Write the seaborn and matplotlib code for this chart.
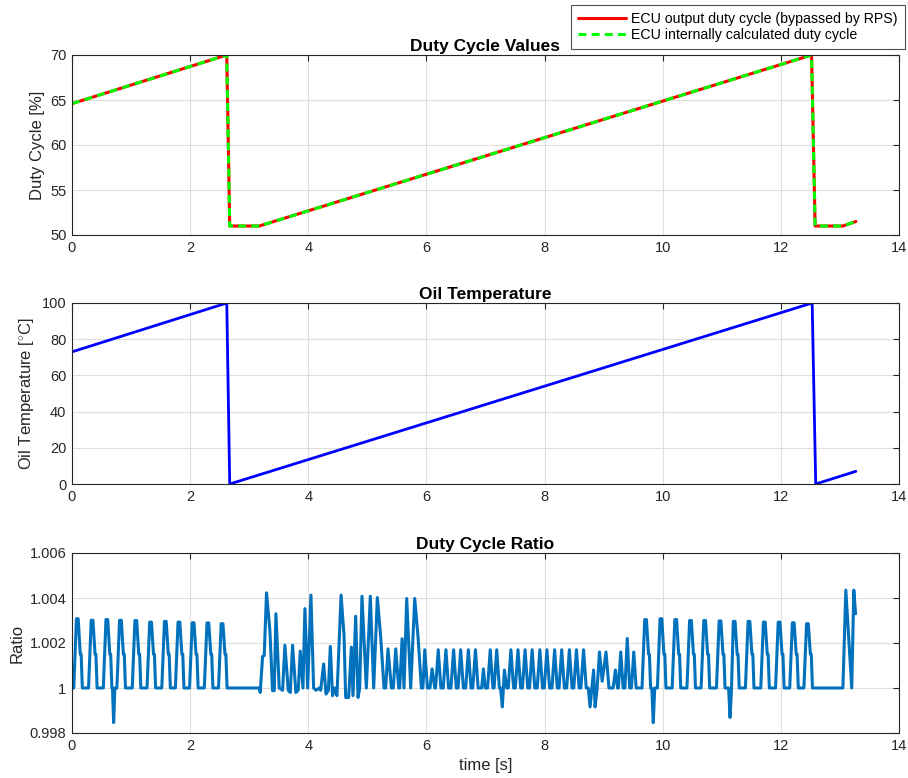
import matplotlib
matplotlib.use("Agg")
import matplotlib.pyplot as plt
import numpy as np
import pandas as pd
import seaborn as sns

# ---------------- data ----------------
duty_t = [0.0, 2.62, 2.67, 3.17, 12.52, 12.58, 13.05, 13.27]
duty_out = [64.6, 70.0, 51.0, 51.0, 70.0, 51.0, 51.0, 51.5]
duty_calc = [64.6, 70.0, 51.0, 51.0, 70.0, 51.0, 51.0, 51.5]

oil_t = [0.0, 2.62, 2.67, 12.53, 12.59, 13.27]
oil_temp = [73.0, 100.0, 0.0, 100.0, 0.0, 7.0]

ratio_t = [
    0.00, 0.03, 0.075, 0.105, 0.14, 0.155, 0.175,
    0.28, 0.325, 0.355, 0.39, 0.405, 0.425,
    0.53, 0.575, 0.605, 0.64, 0.655, 0.675,
    0.685, 0.705, 0.725,
    0.76, 0.805, 0.835, 0.87, 0.885, 0.905,
    1.02, 1.065, 1.095, 1.13, 1.145, 1.165,
    1.27, 1.315, 1.345, 1.38, 1.395, 1.415,
    1.52, 1.565, 1.595, 1.63, 1.645, 1.665,
    1.75, 1.795, 1.825, 1.86, 1.875, 1.895,
    1.99, 2.035, 2.065, 2.10, 2.115, 2.135,
    2.24, 2.285, 2.315, 2.35, 2.365, 2.385,
    2.48, 2.525, 2.555, 2.59, 2.605, 2.625,
    3.17, 3.186, 3.226, 3.254, 3.293, 3.35, 3.395, 3.424, 3.452, 3.508,
    3.565, 3.604, 3.661, 3.695, 3.734, 3.79, 3.83, 3.864, 3.91, 3.943,
    3.989, 4.045, 4.09, 4.13, 4.186, 4.21, 4.26, 4.30, 4.34, 4.373,
    4.41, 4.45, 4.485, 4.555, 4.605, 4.633, 4.684, 4.729, 4.757, 4.802,
    4.842, 4.87, 4.909, 4.983, 5.05, 5.107, 5.169, 5.226, 5.282, 5.31,
    5.35, 5.407, 5.44, 5.48, 5.531, 5.548, 5.588, 5.621, 5.666, 5.734,
    5.802, 5.858, 5.915, 5.94, 5.972, 6.017, 6.06, 6.096, 6.141,
    6.155, 6.20, 6.245, 6.285, 6.33, 6.375, 6.415, 6.46, 6.505, 6.535,
    6.58, 6.625, 6.665, 6.71, 6.755, 6.785, 6.83, 6.875, 6.935, 6.965,
    6.995, 7.035, 7.08, 7.125, 7.145, 7.19, 7.235, 7.255, 7.285, 7.32,
    7.36, 7.385, 7.43, 7.475, 7.505, 7.55, 7.595, 7.625, 7.67, 7.715,
    7.745, 7.79, 7.835, 7.875, 7.92, 7.965, 7.995, 8.04, 8.085, 8.125,
    8.17, 8.215, 8.245, 8.29, 8.335, 8.375, 8.42, 8.465, 8.495, 8.54,
    8.585, 8.615, 8.66, 8.705, 8.74, 8.77, 8.80, 8.83, 8.855, 8.89,
    8.93, 8.975, 9.04, 9.09, 9.16, 9.20, 9.235, 9.25, 9.29, 9.33,
    9.36, 9.40, 9.44, 9.47, 9.51, 9.55,
    9.65, 9.695, 9.725, 9.76, 9.775, 9.795,
    9.815, 9.84, 9.865,
    9.91, 9.955, 9.985, 10.02, 10.035, 10.055,
    10.16, 10.205, 10.235, 10.27, 10.285, 10.305,
    10.41, 10.455, 10.485, 10.52, 10.535, 10.555,
    10.65, 10.695, 10.725, 10.76, 10.775, 10.795,
    10.91, 10.955, 10.985, 11.02, 11.035, 11.055,
    11.115, 11.14, 11.165,
    11.195, 11.225, 11.26, 11.275, 11.295,
    11.40, 11.445, 11.475, 11.51, 11.525, 11.545,
    11.66, 11.705, 11.735, 11.77, 11.785, 11.805,
    11.91, 11.955, 11.985, 12.02, 12.035, 12.055,
    12.15, 12.195, 12.225, 12.26, 12.275, 12.295,
    12.39, 12.435, 12.465, 12.50, 12.515, 12.535,
    13.05, 13.10, 13.14, 13.20, 13.235, 13.265,
]
ratio_v = [
    1.0, 1.0, 1.00308, 1.00308, 1.0015, 1.0015, 1.0,
    1.0, 1.00301, 1.00301, 1.0015, 1.0015, 1.0,
    1.0, 1.00304, 1.00304, 1.0015, 1.0015, 1.0,
    1.0, 0.99846, 1.0,
    1.0, 1.00301, 1.00301, 1.0015, 1.0015, 1.0,
    1.0, 1.00300, 1.00300, 1.0015, 1.0015, 1.0,
    1.0, 1.00293, 1.00293, 1.0015, 1.0015, 1.0,
    1.0, 1.00296, 1.00296, 1.0015, 1.0015, 1.0,
    1.0, 1.00293, 1.00293, 1.0015, 1.0015, 1.0,
    1.0, 1.00290, 1.00290, 1.0015, 1.0015, 1.0,
    1.0, 1.00289, 1.00289, 1.0015, 1.0015, 1.0,
    1.0, 1.00286, 1.00286, 1.0015, 1.0015, 1.0,
    1.0, 0.9998, 1.0014, 1.00144, 1.00423, 1.00256, 0.99988, 0.99988, 1.0033, 1.0,
    0.9999, 1.0019, 0.9999, 0.9998, 1.0019, 0.9998, 0.9999, 1.00164, 1.0, 1.00353,
    1.0, 1.00413, 1.0, 0.9999, 1.0, 0.9999, 1.00107, 0.99973, 0.9999, 1.00185,
    0.99966, 1.0, 0.99966, 1.00413, 1.00234, 0.99958, 0.99958, 1.00182, 0.99966, 1.00319,
    0.99958, 1.0, 1.00408, 1.0, 1.00408, 1.0, 1.00402, 1.00226, 1.0, 1.0,
    1.00174, 1.0, 1.0, 1.00174, 1.0, 1.0, 1.00219, 1.0, 1.00398, 1.0,
    1.00398, 1.00226, 1.0, 1.0, 1.0017, 1.0, 1.0, 1.00085, 1.0,
    1.0, 1.0017, 1.0, 1.0, 1.0017, 1.0, 1.0, 1.0017, 1.0, 1.0,
    1.0017, 1.0, 1.0, 1.0017, 1.0, 1.0, 1.0017, 1.0, 1.0, 1.00085,
    1.0, 1.0, 1.0017, 1.0, 1.0, 1.0017, 1.0, 1.0, 0.99916, 1.0008,
    1.0, 1.0, 1.0017, 1.0, 1.0, 1.0017, 1.0, 1.0, 1.0017, 1.0,
    1.0, 1.0017, 1.0, 1.0, 1.0017, 1.0, 1.0, 1.0017, 1.0, 1.0,
    1.0017, 1.0, 1.0, 1.0017, 1.0, 1.0, 1.0017, 1.0, 1.0, 1.0017,
    1.0, 1.0, 1.0017, 1.0, 1.0, 0.99916, 1.0, 1.0008, 0.99916, 1.0,
    1.0016, 1.0003, 1.0016, 1.0, 1.0, 1.0008, 1.0, 1.0, 1.0016, 1.0,
    1.0, 1.0022, 1.0, 1.0, 1.0016, 1.0,
    1.0, 1.00304, 1.00304, 1.0015, 1.0015, 1.0,
    1.0, 0.99846, 1.0,
    1.0, 1.00308, 1.00308, 1.0015, 1.0015, 1.0,
    1.0, 1.00304, 1.00304, 1.0015, 1.0015, 1.0,
    1.0, 1.00300, 1.00300, 1.0015, 1.0015, 1.0,
    1.0, 1.00300, 1.00300, 1.0015, 1.0015, 1.0,
    1.0, 1.00298, 1.00298, 1.0015, 1.0015, 1.0,
    1.0, 0.99869, 1.0,
    1.00296, 1.00296, 1.0015, 1.0015, 1.0,
    1.0, 1.00296, 1.00296, 1.0015, 1.0015, 1.0,
    1.0, 1.00293, 1.00293, 1.0015, 1.0015, 1.0,
    1.0, 1.00293, 1.00293, 1.0015, 1.0015, 1.0,
    1.0, 1.00290, 1.00290, 1.0015, 1.0015, 1.0,
    1.0, 1.00286, 1.00286, 1.0015, 1.0015, 1.0,
    1.0, 1.00435, 1.00264, 1.0, 1.00435, 1.0033,
]

x_ticks = [0, 2, 4, 6, 8, 10, 12, 14]
duty_ticks = [50, 55, 60, 65, 70]
oil_ticks = [0, 20, 40, 60, 80, 100]
ratio_ticks = [0.998, 1.0, 1.002, 1.004, 1.006]
ratio_tick_labels = ["0.998", "1", "1.002", "1.004", "1.006"]

# ---------------- style ----------------
sns.set_theme(style="white")
plt.rcParams['font.family'] = ['Liberation Sans', 'DejaVu Sans']
plt.rcParams['mathtext.fontset'] = 'custom'
plt.rcParams['mathtext.rm'] = 'Liberation Sans'
plt.rcParams['mathtext.it'] = 'Liberation Sans:italic'
plt.rcParams['mathtext.bf'] = 'Liberation Sans:bold'

W, H = 908, 778
fig = plt.figure(figsize=(W / 100, H / 100), dpi=100, facecolor='white')

def add_ax(top, bottom):
    return fig.add_axes([72 / W, 1 - bottom / H, 827 / W, (bottom - top) / H])

ax1 = add_ax(55, 235)
ax2 = add_ax(303, 484)
ax3 = add_ax(553, 733)

TXT = '#262626'

def style(ax, yticks, ylim, title, ylabel, yticklabels=None):
    ax.set_xlim(0, 14)
    ax.set_xticks(x_ticks)
    ax.set_xticklabels([str(v) for v in x_ticks])
    ax.set_ylim(*ylim)
    ax.set_yticks(yticks)
    if yticklabels is not None:
        ax.set_yticklabels(yticklabels)
    ax.grid(True, color='#dedede', linewidth=0.8)
    ax.set_axisbelow(True)
    ax.tick_params(direction='in', length=4.5, width=0.8, colors=TXT,
                   top=True, right=True, labelsize=10.5, pad=4)
    for s in ax.spines.values():
        s.set_color(TXT)
        s.set_linewidth(0.8)
        s.set_visible(True)
    ax.set_title(title, fontsize=12.5, fontweight='bold', color='black', pad=3)
    ax.set_ylabel(ylabel, fontsize=12, color=TXT)
    ax.set_xlabel('')

# top: duty cycles
df_duty = pd.DataFrame({'t': duty_t, 'out': duty_out, 'calc': duty_calc})
sns.lineplot(data=df_duty, x='t', y='out', ax=ax1, color='#ff0000', lw=2.2,
             estimator=None, sort=False, legend=False)
sns.lineplot(data=df_duty, x='t', y='calc', ax=ax1, color='#00ff00', lw=2.2,
             linestyle=(0, (2.6, 1.7)), estimator=None, sort=False, legend=False)
style(ax1, duty_ticks, (50, 70), 'Duty Cycle Values', 'Duty Cycle [%]')

# middle: oil temperature
df_oil = pd.DataFrame({'t': oil_t, 'temp': oil_temp})
sns.lineplot(data=df_oil, x='t', y='temp', ax=ax2, color='#0000ff', lw=2.0,
             estimator=None, sort=False, legend=False)
style(ax2, oil_ticks, (0, 100), 'Oil Temperature', r'Oil Temperature [$^{\circ}$C]')

# bottom: ratio
df_ratio = pd.DataFrame({'t': ratio_t, 'ratio': ratio_v})
sns.lineplot(data=df_ratio, x='t', y='ratio', ax=ax3, color='#0072bd', lw=2.2,
             estimator=None, sort=False, legend=False)
style(ax3, ratio_ticks, (0.998, 1.006), 'Duty Cycle Ratio', 'Ratio', ratio_tick_labels)
ax3.set_xlabel('time [s]', fontsize=12, color=TXT)

# legend
handles = [ax1.lines[0], ax1.lines[1]]
labels = ['ECU output duty cycle (bypassed by RPS)', 'ECU internally calculated duty cycle']
leg = fig.legend(handles, labels, loc='upper right', bbox_to_anchor=(905 / W, 1 - 5 / H),
                 frameon=True, fancybox=False, fontsize=10.2, handlelength=3.4,
                 handletextpad=0.35, borderpad=0.5, labelspacing=0.12, borderaxespad=0)
leg.get_frame().set_edgecolor(TXT)
leg.get_frame().set_linewidth(0.8)
leg.get_frame().set_facecolor('white')
for t in leg.get_texts():
    t.set_color('black')

fig.savefig('out.png', dpi=100, facecolor='white')
